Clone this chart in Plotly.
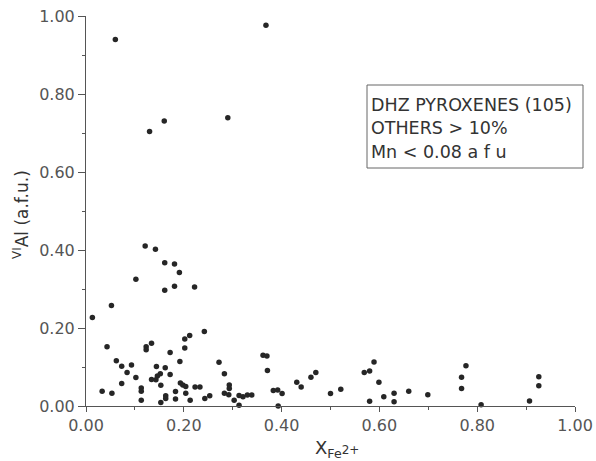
import plotly.graph_objects as go

# X_Fe2+ and VI-Al (a.f.u.) values
x_fe = [0.013, 0.121, 0.142, 0.161, 0.181, 0.191, 0.102, 0.161, 0.181, 0.222,
        0.052, 0.043, 0.123, 0.123, 0.134, 0.212, 0.202, 0.202, 0.242, 0.172,
        0.192, 0.062, 0.073, 0.093, 0.084, 0.073, 0.102, 0.144, 0.162, 0.152,
        0.146, 0.134, 0.143, 0.153, 0.172, 0.193, 0.198, 0.204, 0.033, 0.053,
        0.113, 0.113, 0.113, 0.153, 0.163, 0.163, 0.183, 0.183, 0.204, 0.213,
        0.223, 0.233, 0.243, 0.253, 0.272, 0.283, 0.293, 0.293, 0.283, 0.292,
        0.303, 0.313, 0.321, 0.330, 0.339, 0.313, 0.362, 0.370, 0.371, 0.383,
        0.392, 0.401, 0.393, 0.431, 0.440, 0.460, 0.470, 0.500, 0.521, 0.569,
        0.580, 0.589, 0.599, 0.580, 0.609, 0.630, 0.630, 0.660, 0.699, 0.768,
        0.768, 0.777, 0.808, 0.907, 0.926, 0.926, 0.060, 0.130, 0.160, 0.290,
        0.368]
al_vi = [0.227, 0.410, 0.402, 0.367, 0.364, 0.342, 0.325, 0.297, 0.307, 0.305,
         0.258, 0.152, 0.152, 0.144, 0.161, 0.181, 0.172, 0.149, 0.191, 0.137,
         0.114, 0.116, 0.102, 0.105, 0.086, 0.058, 0.073, 0.101, 0.098, 0.083,
         0.077, 0.068, 0.067, 0.053, 0.081, 0.059, 0.054, 0.050, 0.038, 0.033,
         0.046, 0.038, 0.015, 0.009, 0.026, 0.019, 0.037, 0.018, 0.033, 0.015,
         0.049, 0.049, 0.019, 0.026, 0.112, 0.083, 0.054, 0.045, 0.033, 0.029,
         0.015, 0.027, 0.024, 0.028, 0.028, 0.002, 0.130, 0.128, 0.091, 0.040,
         0.041, 0.032, 0.000, 0.061, 0.049, 0.074, 0.086, 0.032, 0.043, 0.086,
         0.090, 0.113, 0.061, 0.012, 0.024, 0.033, 0.011, 0.038, 0.029, 0.074,
         0.045, 0.103, 0.003, 0.013, 0.075, 0.052, 0.940, 0.704, 0.731, 0.739,
         0.976]

tick_vals = [0.0, 0.2, 0.4, 0.6, 0.8, 1.0]
tick_text = ["0.00", "0.20", "0.40", "0.60", "0.80", "1.00"]
box_lines = ["DHZ PYROXENES (105)", "OTHERS > 10%", "Mn < 0.08 a f u"]

INK = "#555555"
FONT = "DejaVu Sans"

fig = go.Figure()
fig.add_trace(go.Scatter(
    x=x_fe, y=al_vi, mode="markers",
    marker=dict(size=5.5, color="#262626"),
    cliponaxis=False, showlegend=False, hoverinfo="skip"))

axis_common = dict(
    range=[0, 1.0], showgrid=False, zeroline=False,
    showline=True, linecolor=INK, linewidth=1,
    ticks="outside", tickcolor=INK, tickwidth=1,
    tickvals=tick_vals, ticktext=tick_text,
    tickfont=dict(family=FONT, size=16, color=INK),
    minor=dict(dtick=0.1, tick0=0, ticks="outside", ticklen=3,
               tickcolor=INK, tickwidth=1),
)
fig.update_xaxes(**axis_common, ticklen=5)
fig.update_yaxes(**axis_common, ticklen=7)

L, R, T, B = 86, 21, 16, 55
W, H = 596, 461
pw, ph = W - L - R, H - T - B


def px_x(p):
    return (p - L) / pw


def px_y(p):
    return (H - B - p) / ph


annotations = [
    dict(text="X<sub>Fe</sub><span style='font-size:12px'>2+</span>",
         x=px_x(337), y=px_y(449), xref="paper", yref="paper",
         showarrow=False, xanchor="center", yanchor="middle",
         font=dict(family=FONT, size=18, color="#333333")),
    dict(text="<sup>VI</sup>Al (a.f.u.)",
         x=px_x(21), y=px_y(215), xref="paper", yref="paper",
         showarrow=False, xanchor="center", yanchor="middle", textangle=-90,
         font=dict(family=FONT, size=17, color="#333333")),
]
for i, line in enumerate(box_lines):
    annotations.append(dict(
        text=line, x=px_x(369), y=px_y(105 + 23.3 * i),
        xref="paper", yref="paper", showarrow=False,
        xanchor="left", yanchor="middle",
        font=dict(family=FONT, size=17.5, color="#333333")))

fig.update_layout(
    width=W, height=H,
    margin=dict(l=L, r=R, t=T, b=B, autoexpand=False),
    paper_bgcolor="white", plot_bgcolor="white",
    annotations=annotations,
    shapes=[dict(type="rect", xref="paper", yref="paper",
                 x0=px_x(367), x1=px_x(583), y0=px_y(168), y1=px_y(85),
                 line=dict(color="#666666", width=1))],
)

fig.write_html("out.html")
